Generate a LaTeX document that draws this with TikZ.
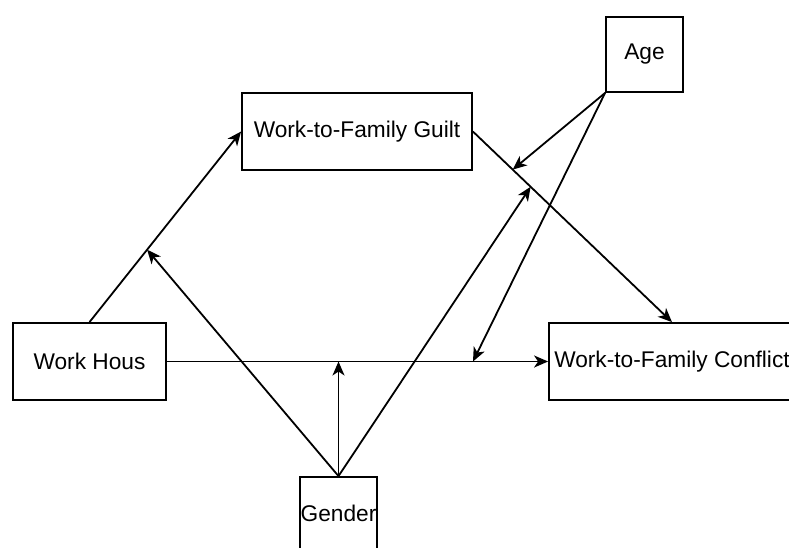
\documentclass[tikz,border=0pt]{standalone}
\usepackage{fontspec}
\setmainfont{Liberation Sans}
\usetikzlibrary{arrows.meta,calc}
\begin{document}
\begin{tikzpicture}[x=1pt,y=-1pt,
  box/.style={draw,line width=1.8pt,inner sep=0pt,rectangle,font=\fontsize{22.7}{27}\selectfont},
  link/.style={draw,line width=1.8pt,-{Stealth[length=14pt,width=12pt,inset=4pt]}},
  plain/.style={draw,line width=1.8pt}]
\clip (0,0) rectangle (789,547);
\fill[white] (0,0) rectangle (789,547);
\node[box,minimum width=77pt,minimum height=75pt] (age) at (644.5,54.5) {Age};
\node[box,minimum width=230pt,minimum height=77pt] (guilt) at (357,131.5) {Work-to-Family Guilt};
\node[box,minimum width=153pt,minimum height=77pt] (work) at (89.5,361.5) {Work Hous};
\node[box,minimum width=246pt,minimum height=77pt] (conflict) at (672,361.5) {Work-to-Family Conflict};
\node[box,minimum width=77pt,minimum height=80pt] (gender) at (338.5,517) {};
\node[font=\fontsize{22.7}{27}\selectfont,inner sep=0pt] (gtext) at (338.5,513) {Gender};
% main paths
\draw[link] (work.north) -- (guilt.west);
\draw[link] (guilt.east) -- (conflict.north);
\draw[link] (work.east) -- (conflict.west);
% moderation targets
\coordinate (m1) at ($(work.north)!0.38!(guilt.west)$);
\coordinate (m2) at ($(guilt.east)!0.2!(conflict.north)$);
\coordinate (m3) at ($(guilt.east)!0.29!(conflict.north)$);
\coordinate (m4) at (338.5,361.5);
\coordinate (m5) at (473,361.5);
\draw[link] (gender.north) -- (m1);
\draw[link] (gender.north) -- (m4);
\draw[link] (gender.north) -- (m3);
\draw[link] (age.south west) -- (m2);
\draw[link] (age.south west) -- (m5);
\end{tikzpicture}
\end{document}
